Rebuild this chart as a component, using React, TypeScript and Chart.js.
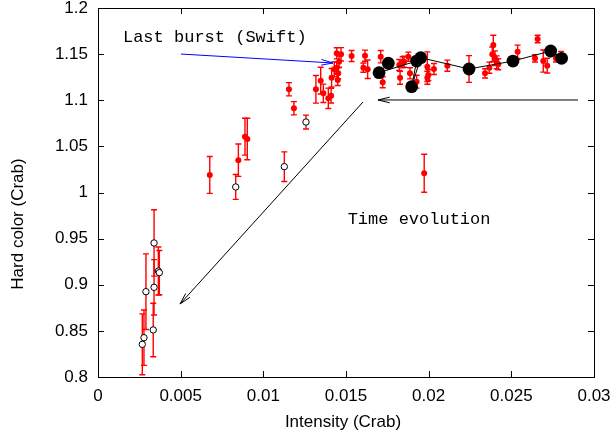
import React, { useEffect, useRef } from 'react';
import { Chart, registerables } from 'chart.js';
Chart.register(...registerables);

// ---- Axis ticks ----
const xTickValues = [0, 0.005, 0.01, 0.015, 0.02, 0.025, 0.03];
const xTickLabels = ['0', '0.005', '0.01', '0.015', '0.02', '0.025', '0.03'];
const yTickValues = [0.8, 0.85, 0.9, 0.95, 1, 1.05, 1.1, 1.15, 1.2];
const yTickLabels = ['0.8', '0.85', '0.9', '0.95', '1', '1.05', '1.1', '1.15', '1.2'];

// ---- Red filled points (with red error bars) ----
const redX = [
  0.00676, 0.00849, 0.00889, 0.00903, 0.01155, 0.01185, 0.01318, 0.01347, 0.01363, 0.01393,
  0.0141, 0.01413, 0.01429, 0.01444, 0.0147, 0.01458, 0.01453, 0.0145, 0.01444, 0.01534,
  0.01615, 0.01605, 0.01631, 0.0171, 0.01722, 0.01827, 0.01843, 0.01822, 0.01851, 0.01877,
  0.01887, 0.01927, 0.01992, 0.01998, 0.01992, 0.02032, 0.02113, 0.01973, 0.02244, 0.02391,
  0.02385, 0.02401, 0.02411, 0.02367, 0.02341, 0.02421, 0.02538, 0.02643, 0.02659, 0.02693,
  0.02717, 0.0277, 0.028,
];
const redY = [
  1.019, 1.035, 1.0605, 1.058, 1.1119, 1.0913, 1.1119, 1.1212, 1.1075, 1.1021,
  1.105, 1.1244, 1.1336, 1.1509, 1.1498, 1.1418, 1.1292, 1.122, 1.1353, 1.148,
  1.1483, 1.1353, 1.1336, 1.1472, 1.1195, 1.1244, 1.1411, 1.1382, 1.1418, 1.1472,
  1.1292, 1.1201, 1.1364, 1.1274, 1.1244, 1.1339, 1.1375, 1.0208, 1.1339, 1.1599,
  1.1498, 1.1455, 1.1411, 1.1353, 1.1292, 1.139, 1.1526, 1.1455, 1.1664, 1.1425,
  1.1375, 1.1455, 1.147,
];
const redErr = [
  0.02, 0.0175, 0.02, 0.0225, 0.0072, 0.0072, 0.015, 0.0145, 0.01, 0.011,
  0.008, 0.01, 0.008, 0.006, 0.0072, 0.006, 0.006, 0.006, 0.006, 0.006,
  0.006, 0.005, 0.01, 0.0067, 0.006, 0.007, 0.006, 0.006, 0.006, 0.005,
  0.006, 0.007, 0.016, 0.006, 0.007, 0.006, 0.006, 0.0206, 0.0145, 0.0105,
  0.008, 0.008, 0.007, 0.006, 0.005, 0.006, 0.0072, 0.004, 0.004, 0.012,
  0.008, 0.004, 0.006,
];

// ---- Open circles (with red error bars) ----
const openX = [0.00268, 0.00278, 0.0029, 0.00334, 0.00339, 0.00339, 0.00365, 0.00371, 0.00833, 0.01127, 0.01258];
const openY = [0.8354, 0.8426, 0.8925, 0.851, 0.8972, 0.9453, 0.9149, 0.9131, 1.006, 1.028, 1.0764];
const openErr = [0.033, 0.03, 0.041, 0.029, 0.03, 0.036, 0.026, 0.024, 0.0135, 0.016, 0.0075];

// ---- Swift points (big black, connected in time order) ----
const swiftX = [0.01756, 0.017, 0.01927, 0.01897, 0.01952, 0.02244, 0.0251, 0.02738, 0.02804];
const swiftY = [1.1401, 1.1299, 1.1425, 1.1147, 1.1461, 1.1339, 1.1425, 1.1534, 1.1455];

// ---- Annotations (data coordinates) ----
const arrowFromX = [0.00502, 0.02903, 0.01603];
const arrowFromY = [1.1501, 1.1003, 1.0981];
const arrowToX = [0.01421, 0.01694, 0.00496];
const arrowToY = [1.1404, 1.1003, 0.8791];
const arrowColors = ['#0000ff', '#000000', '#000000'];
const noteTexts = ['Last burst (Swift)', 'Time evolution'];
const noteX = [0.00151, 0.0151];
const noteY = [1.1635, 0.9659];

const xTitle = 'Intensity (Crab)';
const yTitle = 'Hard color (Crab)';

const errorBarPlugin = {
  id: 'errorBars',
  beforeDatasetsDraw(chart: any) {
    const { ctx, scales, chartArea } = chart;
    const xs = scales.x, ys = scales.y;
    ctx.save();
    ctx.beginPath();
    ctx.rect(chartArea.left, chartArea.top, chartArea.right - chartArea.left, chartArea.bottom - chartArea.top);
    ctx.clip();
    ctx.strokeStyle = '#ff0000';
    ctx.lineWidth = 1.4;
    chart.data.datasets.forEach((ds: any) => {
      if (!ds.errors) return;
      ds.data.forEach((p: any, i: number) => {
        const e = ds.errors[i];
        const px = xs.getPixelForValue(p.x);
        const y0 = ys.getPixelForValue(p.y - e);
        const y1 = ys.getPixelForValue(p.y + e);
        ctx.beginPath();
        ctx.moveTo(px, y0); ctx.lineTo(px, y1);
        ctx.moveTo(px - 3, y0); ctx.lineTo(px + 3, y0);
        ctx.moveTo(px - 3, y1); ctx.lineTo(px + 3, y1);
        ctx.stroke();
      });
    });
    ctx.restore();
  },
};

const framePlugin = {
  id: 'frame',
  afterDatasetsDraw(chart: any) {
    const { ctx, scales, chartArea } = chart;
    const xs = scales.x, ys = scales.y;
    const { left, right, top, bottom } = chartArea;
    ctx.save();
    // annotations: arrows
    for (let i = 0; i < arrowFromX.length; i++) {
      const x0 = xs.getPixelForValue(arrowFromX[i]);
      const y0 = ys.getPixelForValue(arrowFromY[i]);
      const x1 = xs.getPixelForValue(arrowToX[i]);
      const y1 = ys.getPixelForValue(arrowToY[i]);
      const ang = Math.atan2(y1 - y0, x1 - x0);
      const L = 12, a = 0.24;
      ctx.strokeStyle = arrowColors[i];
      ctx.lineWidth = 1;
      ctx.beginPath();
      ctx.moveTo(x0, y0); ctx.lineTo(x1, y1);
      ctx.moveTo(x1 - L * Math.cos(ang - a), y1 - L * Math.sin(ang - a));
      ctx.lineTo(x1, y1);
      ctx.lineTo(x1 - L * Math.cos(ang + a), y1 - L * Math.sin(ang + a));
      ctx.stroke();
    }
    // annotations: texts
    ctx.fillStyle = '#000';
    ctx.font = '17px "Liberation Mono"';
    ctx.textAlign = 'left';
    ctx.textBaseline = 'alphabetic';
    for (let i = 0; i < noteTexts.length; i++) {
      ctx.fillText(noteTexts[i], xs.getPixelForValue(noteX[i]), ys.getPixelForValue(noteY[i]));
    }
    // frame
    ctx.strokeStyle = '#000';
    ctx.lineWidth = 1;
    ctx.strokeRect(Math.round(left) + 0.5, Math.round(top) + 0.5, Math.round(right - left), Math.round(bottom - top));
    const T = 6;
    ctx.beginPath();
    xTickValues.forEach((v) => {
      const p = Math.round(xs.getPixelForValue(v)) + 0.5;
      ctx.moveTo(p, bottom); ctx.lineTo(p, bottom - T);
      ctx.moveTo(p, top); ctx.lineTo(p, top + T);
    });
    yTickValues.forEach((v) => {
      const p = Math.round(ys.getPixelForValue(v)) + 0.5;
      ctx.moveTo(left, p); ctx.lineTo(left + T, p);
      ctx.moveTo(right, p); ctx.lineTo(right - T, p);
    });
    ctx.stroke();
    // axis titles
    ctx.font = '17px "Liberation Sans"';
    ctx.textAlign = 'center';
    ctx.fillText(xTitle, (left + right) / 2 - 3, 427);
    ctx.translate(23, 224);
    ctx.rotate(-Math.PI / 2);
    ctx.fillText(yTitle, 0, 0);
    ctx.restore();
  },
};

export default function App() {
  const ref = useRef<HTMLCanvasElement>(null);
  useEffect(() => {
    document.body.style.margin = '0';
    const tickFont = { family: 'Liberation Sans', size: 17 };
    const chart = new Chart(ref.current as HTMLCanvasElement, {
      type: 'scatter',
      data: {
        datasets: [
          {
            type: 'line',
            label: 'Swift',
            data: swiftX.map((x, i) => ({ x, y: swiftY[i] })),
            showLine: true,
            borderColor: '#000',
            borderWidth: 1,
            pointRadius: 6.4,
            pointBackgroundColor: '#000',
            pointBorderWidth: 0,
            fill: false,
            tension: 0,
          } as any,
          {
            label: 'open',
            data: openX.map((x, i) => ({ x, y: openY[i] })),
            errors: openErr,
            pointRadius: 3.2,
            pointBackgroundColor: '#fff',
            pointBorderColor: '#000',
            pointBorderWidth: 1,
          } as any,
          {
            label: 'red',
            data: redX.map((x, i) => ({ x, y: redY[i] })),
            errors: redErr,
            pointRadius: 3,
            pointBackgroundColor: '#ff0000',
            pointBorderColor: '#ff0000',
            pointBorderWidth: 0,
          } as any,
        ],
      },
      options: {
        animation: false,
        responsive: false,
        events: [],
        layout: { padding: { left: 0, right: 21, top: 8, bottom: 0 } },
        plugins: { legend: { display: false }, tooltip: { enabled: false } },
        scales: {
          x: {
            type: 'linear',
            min: 0,
            max: 0.03,
            grid: { display: false, drawTicks: false },
            border: { display: false },
            ticks: {
              padding: 9,
              font: tickFont,
              color: '#000',
              maxRotation: 0,
              autoSkip: false,
              callback: (_v: any, i: number) => xTickLabels[i],
            },
            afterBuildTicks: (s: any) => { s.ticks = xTickValues.map((v) => ({ value: v })); },
            afterFit: (s: any) => { s.height = 61; s.paddingLeft = 0; s.paddingRight = 0; },
          },
          y: {
            type: 'linear',
            min: 0.8,
            max: 1.2,
            grid: { display: false, drawTicks: false },
            border: { display: false },
            ticks: {
              padding: 10,
              font: tickFont,
              color: '#000',
              autoSkip: false,
              callback: (_v: any, i: number) => yTickLabels[i],
            },
            afterBuildTicks: (s: any) => { s.ticks = yTickValues.map((v) => ({ value: v })); },
            afterFit: (s: any) => { s.width = 98; s.paddingTop = 0; s.paddingBottom = 0; },
          },
        },
      } as any,
      plugins: [errorBarPlugin, framePlugin],
    });
    return () => chart.destroy();
  }, []);
  return (
    <div style={{ width: 615, height: 438, overflow: 'hidden' }}>
      <canvas ref={ref} width={615} height={438} style={{ display: 'block' }} />
    </div>
  );
}
